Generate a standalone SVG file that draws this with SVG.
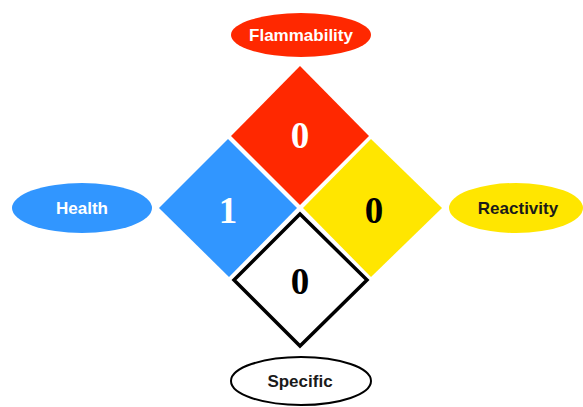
<svg xmlns="http://www.w3.org/2000/svg" width="583" height="407" viewBox="0 0 583 407">
<style>
.lbl{font-family:"Liberation Sans",Arial,sans-serif;font-weight:bold;font-size:17px;text-anchor:middle}
.num{font-family:"Liberation Serif","Times New Roman",serif;font-weight:bold;font-size:37px;text-anchor:middle}
</style>
<rect width="583" height="407" fill="#fff"/>
<g id="flammability-diamond">
<polygon points="300,66 369,136 300,205 231,136" fill="#FF2800"/>
<text class="num" x="300" y="148" fill="#fff">0</text>
</g>
<g id="health-diamond">
<polygon points="228,139 297,208 229,277 159,208" fill="#3196FF"/>
<text class="num" x="228" y="223" fill="#fff">1</text>
</g>
<g id="reactivity-diamond">
<polygon points="371,139 442,208 371,277 303,208" fill="#FFE600"/>
<text class="num" x="374" y="223" fill="#000">0</text>
</g>
<g id="specific-diamond">
<polygon points="300,214 367,280 300,346 234,280" fill="#fff" stroke="#000" stroke-width="3.5"/>
<text class="num" x="300" y="294" fill="#000">0</text>
</g>
<g id="flammability">
<ellipse cx="301" cy="35" rx="70" ry="22" fill="#FF2800"/>
<text class="lbl" x="301" y="41" fill="#fff">Flammability</text>
</g>
<g id="health">
<ellipse cx="82" cy="208" rx="70" ry="25" fill="#3196FF"/>
<text class="lbl" x="82" y="214" fill="#fff">Health</text>
</g>
<g id="reactivity">
<ellipse cx="516" cy="208" rx="67" ry="25" fill="#FFE600"/>
<text class="lbl" x="518" y="214" fill="#1a1a1a">Reactivity</text>
</g>
<g id="specific">
<ellipse cx="301" cy="381" rx="70" ry="24" fill="#fff" stroke="#000" stroke-width="2"/>
<text class="lbl" x="300" y="387" fill="#1a1a1a">Specific</text>
</g>
<g id="connectors"></g>
</svg>
